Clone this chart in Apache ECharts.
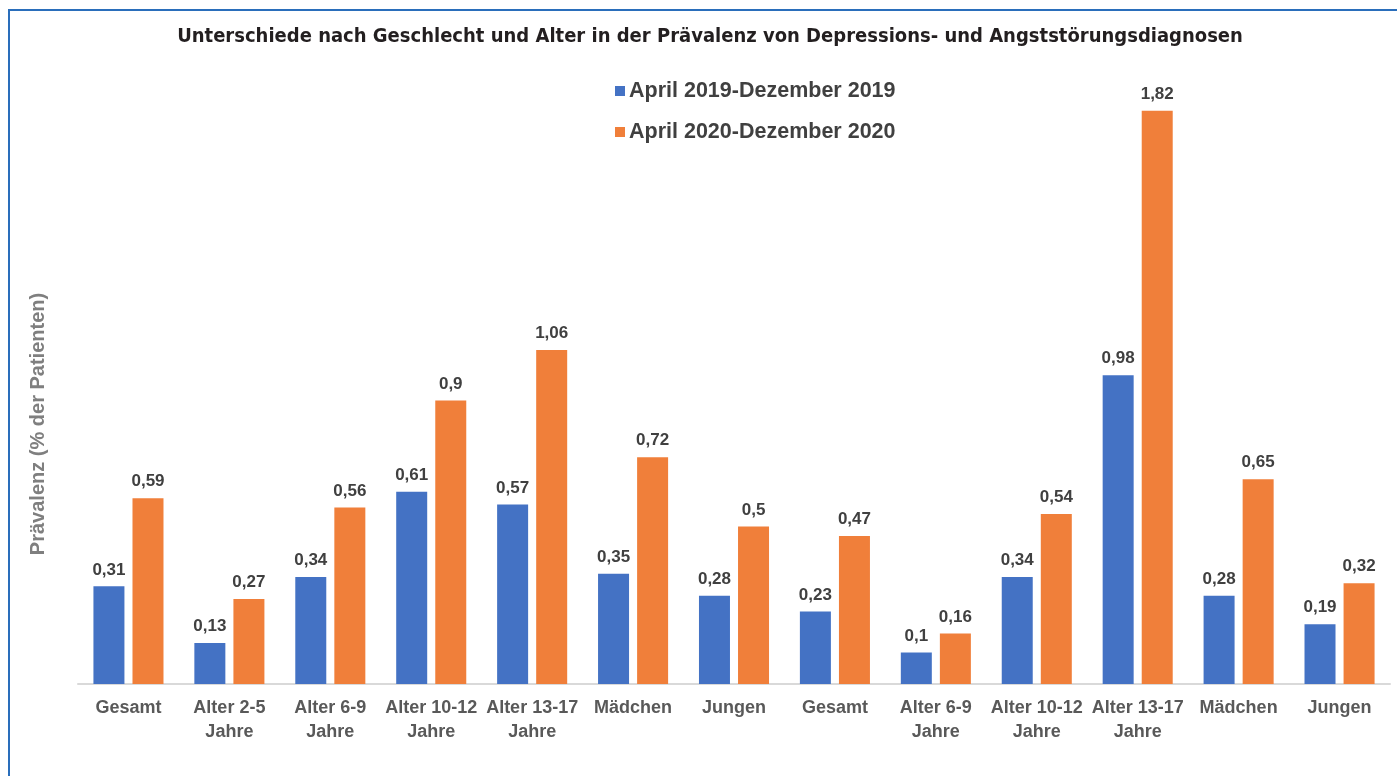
<!DOCTYPE html>
<html>
<head>
<meta charset="utf-8">
<script src="https://cdn.jsdelivr.net/npm/echarts@6/dist/echarts.min.js"></script>
<style>
  html, body { margin: 0; padding: 0; background: #fff; }
  #chart { width: 1397px; height: 776px; }
</style>
</head>
<body>
<div id="chart"></div>
<script>
// Kategorien (x-Achse)
var categories = ['Gesamt', 'Alter 2-5\nJahre', 'Alter 6-9\nJahre', 'Alter 10-12\nJahre', 'Alter 13-17\nJahre',
  'Mädchen', 'Jungen', 'Gesamt', 'Alter 6-9\nJahre', 'Alter 10-12\nJahre', 'Alter 13-17\nJahre', 'Mädchen', 'Jungen'];

var seriesNames = ['April 2019-Dezember 2019', 'April 2020-Dezember 2020'];

var values2019 = [0.31, 0.13, 0.34, 0.61, 0.57, 0.35, 0.28, 0.23, 0.1, 0.34, 0.98, 0.28, 0.19];
var values2020 = [0.59, 0.27, 0.56, 0.9, 1.06, 0.72, 0.5, 0.47, 0.16, 0.54, 1.82, 0.65, 0.32];

var chart = echarts.init(document.getElementById('chart'));

function commaLabel(p) {
  return String(p.value).replace('.', ',');
}

var labelStyle = {
  show: true,
  position: 'top',
  distance: 8,
  formatter: commaLabel,
  fontFamily: 'Liberation Sans, Arial, sans-serif',
  fontWeight: 'bold',
  fontSize: 17,
  color: '#404040'
};

var option = {
  animation: false,
  title: {
    text: 'Unterschiede nach Geschlecht und Alter in der Prävalenz von Depressions- und Angststörungsdiagnosen',
    left: 705,
    textAlign: 'center',
    top: 22,
    textStyle: {
      fontFamily: 'DejaVu Sans Condensed, sans-serif',
      fontWeight: 'bold',
      fontSize: 20,
      color: '#231f20'
    }
  },
  legend: {
    orient: 'vertical',
    left: 610,
    top: 75,
    itemWidth: 10,
    itemHeight: 10,
    itemGap: 19,
    icon: 'rect',
    textStyle: {
      fontFamily: 'Liberation Sans, Arial, sans-serif',
      fontWeight: 'bold',
      fontSize: 21.5,
      color: '#404040',
      padding: [0, 0, 0, -1]
    }
  },
  graphic: [
    { type: 'rect', shape: { x: 9, y: 10, width: 1500, height: 900 }, style: { fill: 'none', stroke: '#2a6ebb', lineWidth: 2 } },
    // y-Achsentitel
    {
      type: 'text',
      x: 38,
      y: 424,
      rotation: Math.PI / 2,
      style: {
        text: 'Prävalenz (% der Patienten)',
        align: 'center',
        verticalAlign: 'middle',
        fontFamily: 'Liberation Sans, Arial, sans-serif',
        fontWeight: 'bold',
        fontSize: 20,
        fill: '#7f7f7f'
      }
    }
  ],
  grid: {
    left: 78,
    right: 7,
    top: 54,
    bottom: 92,
    containLabel: false
  },
  xAxis: {
    type: 'category',
    data: categories,
    axisLine: { lineStyle: { color: '#d9d9d9', width: 2 } },
    axisTick: { show: false },
    axisLabel: {
      interval: 0,
      margin: 12,
      lineHeight: 24,
      fontFamily: 'Liberation Sans, Arial, sans-serif',
      fontWeight: 'bold',
      fontSize: 18,
      color: '#595959'
    }
  },
  yAxis: {
    type: 'value',
    min: 0,
    max: 2,
    splitLine: { show: false },
    axisLine: { show: false },
    axisTick: { show: false },
    axisLabel: { show: false }
  },
  series: [
    {
      name: seriesNames[0],
      type: 'bar',
      data: values2019,
      barWidth: 31,
      barGap: '26%',
      itemStyle: { color: '#4472C4' },
      label: labelStyle
    },
    {
      name: seriesNames[1],
      type: 'bar',
      data: values2020,
      barWidth: 31,
      itemStyle: { color: '#F07F3A' },
      label: labelStyle
    }
  ]
};

chart.setOption(option);
</script>
</body>
</html>
